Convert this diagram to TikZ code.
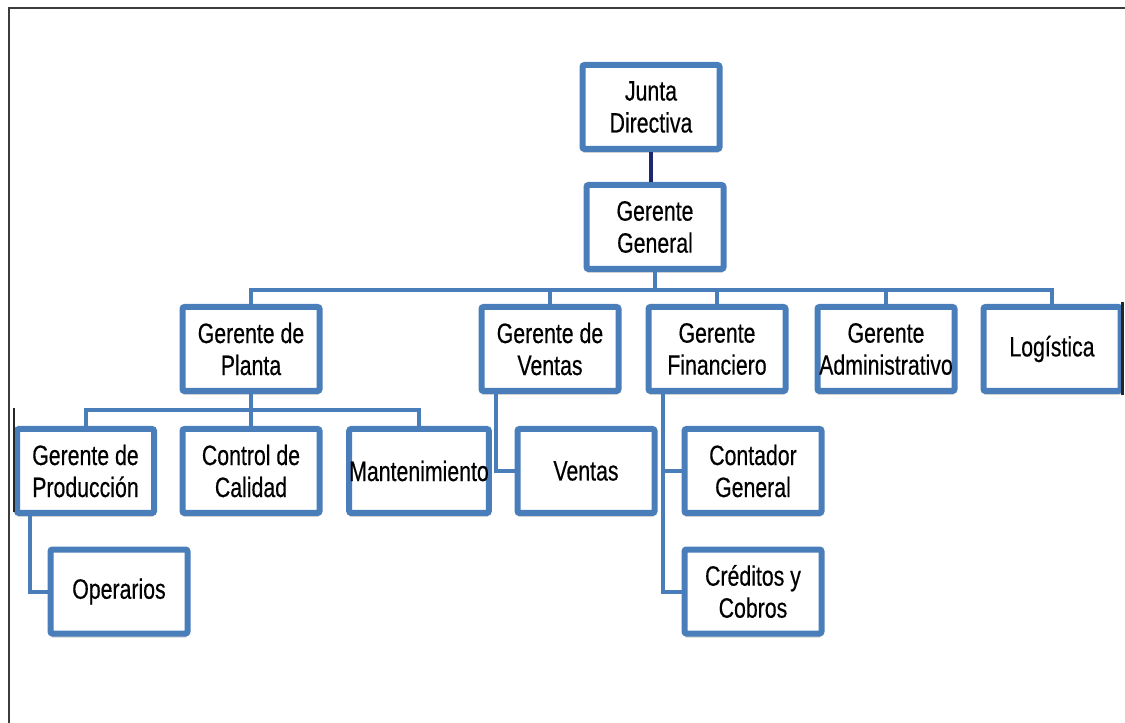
\documentclass[tikz,border=0pt]{standalone}
\usepackage{fontspec}
\setmainfont{Liberation Sans}[FakeStretch=0.76,FakeBold=0.4]
\usetikzlibrary{shadows}
\definecolor{boxblue}{RGB}{74,126,187}
\definecolor{navyline}{RGB}{28,40,110}
\definecolor{framegray}{RGB}{60,60,60}

\begin{document}
\begin{tikzpicture}[x=0.75pt,y=-0.75pt,
  orgbox/.style={draw=boxblue, line width=4.5pt, fill=white, rounded corners=1.5pt,
    minimum width=102.75pt, minimum height=63pt, inner xsep=0pt, inner ysep=0pt,
    align=center, font=\fontsize{21}{24}\selectfont,
    drop shadow={shadow xshift=0pt, shadow yshift=-3pt, opacity=0.3, fill=black!60}},
  link/.style={draw=boxblue, line width=3pt},
  toplink/.style={draw=navyline, line width=3pt},
  edge mark/.style={draw=black!85, line width=1.6pt}]

\useasboundingbox (0,0) rectangle (1125,723);

% page frame (top and left edges only)
\draw[framegray, line width=1.5pt] (9,723) -- (9,8) -- (1125,8);

% helper rows and trunks
\coordinate (busy) at (0,290);
\coordinate (subbus) at (0,410);
\coordinate (ptrunk) at (30,0);
\coordinate (vtrunk) at (496,0);
\coordinate (ftrunk) at (663,0);

% boxes
\node[orgbox] (jd) at (651,107) {Junta\\Directiva};
\node[orgbox] (gg) at (655,227) {Gerente\\General};

\node[orgbox] (gp) at (251,349) {Gerente de\\Planta};
\node[orgbox] (gv) at (550,349) {Gerente de\\Ventas};
\node[orgbox] (gf) at (717,349) {Gerente\\Financiero};
\node[orgbox] (ga) at (886,349) {Gerente\\Administrativo};
\node[orgbox] (lo) at (1052,349) {Logística};

\node[orgbox] (pr) at (85.5,471) {Gerente de\\Producción};
\node[orgbox] (cc) at (251,471) {Control de\\Calidad};
\node[orgbox] (mt) at (419,471) {Mantenimiento};
\node[orgbox] (ve) at (586,471) {Ventas};
\node[orgbox] (cg) at (753,471) {Contador\\General};

\node[orgbox] (op) at (119,591.5) {Operarios};
\node[orgbox] (cr) at (753,591.5) {Créditos y\\Cobros};

% connectors
\draw[toplink] (jd.south) -- (jd.south |- gg.north);

\draw[link] (gg.south) -- (gg.south |- busy) -| (gp.north);
\draw[link] (gg.south |- busy) -| (gv.north);
\draw[link] (gg.south |- busy) -| (gf.north);
\draw[link] (gg.south |- busy) -| (ga.north);
\draw[link] (gg.south |- busy) -| (lo.north);

\draw[link] (gp.south) -- (gp.south |- subbus) -| (pr.north);
\draw[link] (gp.south |- subbus) -| (cc.north);
\draw[link] (gp.south |- subbus) -| (mt.north);

\draw[link] (pr.south -| ptrunk) |- (op.west);
\draw[link] (gv.south -| vtrunk) |- (ve.west);
\draw[link] (gf.south -| ftrunk) |- (cg.west);
\draw[link] (gf.south -| ftrunk) |- (cr.west);

% dark edge marks beside two boxes
\draw[edge mark] (14,408) -- (14,512);
\draw[edge mark] (1122.5,302) -- (1122.5,395);

\end{tikzpicture}
\end{document}
